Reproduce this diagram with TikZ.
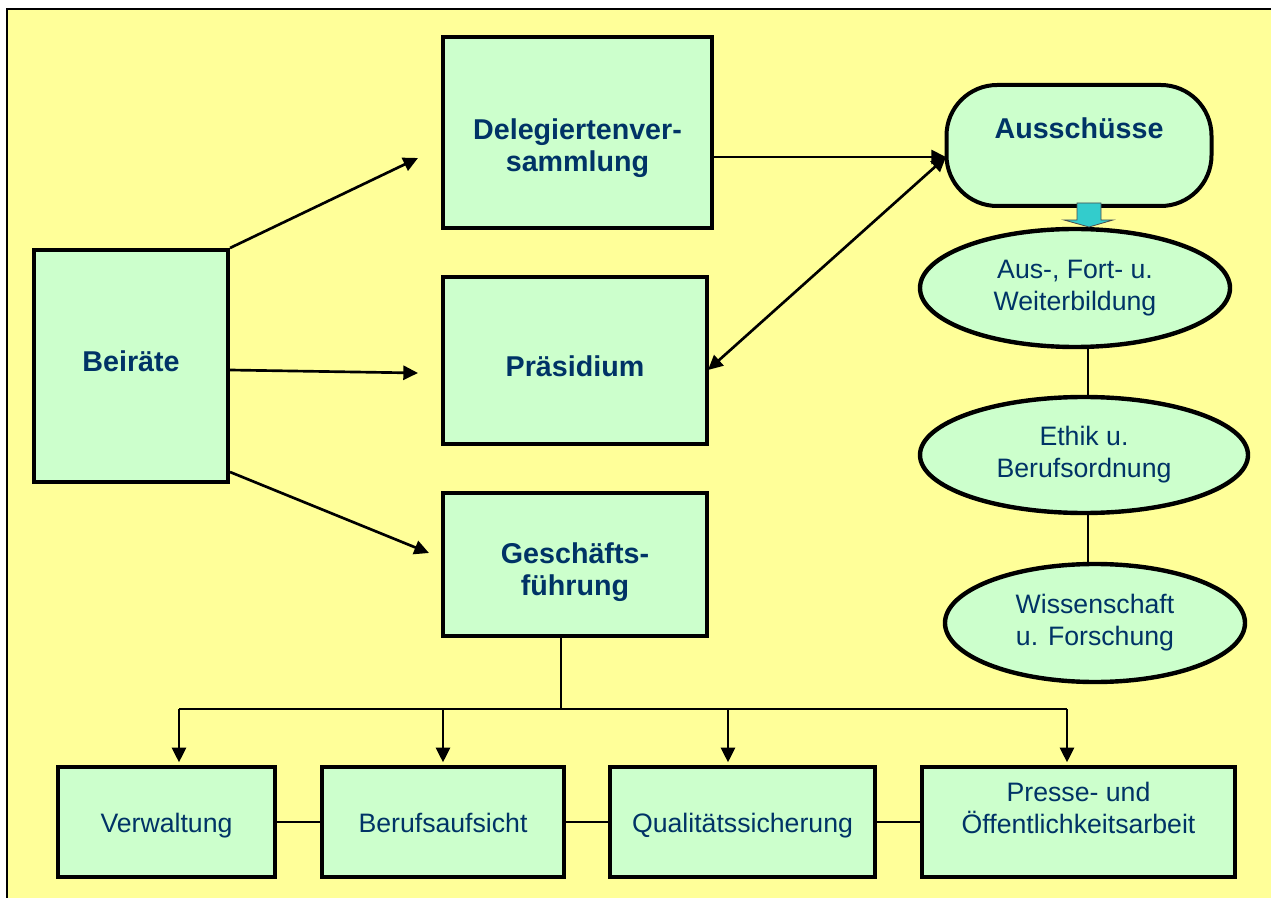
\documentclass[tikz,border=0pt]{standalone}
\usepackage{fontspec}
\setmainfont{Liberation Sans}
\usetikzlibrary{arrows.meta,shapes.geometric,calc}
\definecolor{bgyellow}{HTML}{FFFF99}
\definecolor{boxgreen}{HTML}{CCFFCC}
\definecolor{txtblue}{HTML}{003366}
\definecolor{cyanarrow}{HTML}{33CCCC}
\begin{document}
\begin{tikzpicture}[x=0.75pt,y=-0.75pt,
  box/.style={draw=black,line width=3pt,fill=boxgreen,inner sep=0pt},
  oval/.style={ellipse,draw=black,line width=3.3pt,fill=boxgreen,inner sep=0pt,
    text=txtblue,align=center,font=\fontsize{20}{24}\selectfont},
  boldtxt/.style={text=txtblue,align=center,font=\fontsize{21.5}{24}\selectfont\bfseries,inner sep=0pt},
  plaintxt/.style={text=txtblue,align=center,font=\fontsize{20}{24}\selectfont,inner sep=0pt},
  conn/.style={line width=2pt},
  thinconn/.style={line width=1pt},
  arr/.style={line width=2pt,-{Triangle[length=11pt,width=10.5pt]}},
  dblarr/.style={line width=2pt,{Triangle[length=11pt,width=10.5pt]}-{Triangle[length=11pt,width=10.5pt]}}
]
\useasboundingbox (0,0) rectangle (1271,898);
\fill[white] (0,0) rectangle (1271,898);
\fill[bgyellow] (7,9) rectangle (1271,898);
\draw[line width=2pt] (7,898) -- (7,9) -- (1271,9);

% main boxes
\node[box,minimum width=201.75pt,minimum height=143.25pt] (del) at (577.5,132.5) {};
\node[boldtxt] (delt) at (577.5,148) {Delegiertenver-\\sammlung};
\node[box,minimum width=198pt,minimum height=125.25pt] (pra) at (575,360.5) {};
\node[boldtxt] (prat) at (575,366) {Präsidium};
\node[box,minimum width=198pt,minimum height=107.25pt] (gf) at (575,564.5) {};
\node[boldtxt] (gft) at (575,572) {Geschäfts-\\führung};
\node[box,minimum width=145.5pt,minimum height=174pt] (bei) at (131,366) {};
\node[boldtxt] (beit) at (131,361) {Beiräte};

% Ausschuesse
\node[box,rounded corners=38pt,minimum width=198.75pt,minimum height=90.75pt] (aus) at (1079,145.5) {};
\node[boldtxt] (aust) at (1079,128) {Ausschüsse};

% ellipses
\node[oval,minimum width=232.5pt,minimum height=88.5pt] (e1) at (1075,288) {Aus-, Fort- u.\\Weiterbildung};
\node[oval,minimum width=246pt,minimum height=87pt] (e2) at (1084,455) {Ethik u.\\Berufsordnung};
\node[oval,minimum width=225pt,minimum height=88.5pt] (e3) at (1095,623) {Wissenschaft\\u. Forschung};

% bottom boxes
\node[box,minimum width=162.75pt,minimum height=82.5pt] (b1) at (166.5,822) {};
\node[plaintxt,anchor=base] (b1t) at (166.5,832) {Verwaltung};
\node[box,minimum width=181.5pt,minimum height=82.5pt] (b2) at (443,822) {};
\node[plaintxt,anchor=base] (b2t) at (443,832) {Berufsaufsicht};
\node[box,minimum width=198.75pt,minimum height=82.5pt] (b3) at (742.5,822) {};
\node[plaintxt,anchor=base] (b3t) at (742.5,832) {Qualitätssicherung};
\node[box,minimum width=234.75pt,minimum height=82.5pt] (b4) at (1078.5,822) {};
\node[plaintxt] (b4t) at (1078.5,808) {Presse- und\\Öffentlichkeitsarbeit};

% free ends
\coordinate (tDel) at (418,158);
\coordinate (tPra) at (418,373);
\coordinate (tGf) at (429,553);
\coordinate (a1) at (946,157);
\coordinate (pEnd) at (708,370);
\coordinate (col) at (1088,0);
\coordinate (d1) at (179,709);
\coordinate (d2) at (443,709);
\coordinate (d3) at (728,709);
\coordinate (d4) at (1067,709);
\coordinate (bus) at (561,709);

% Beiraete arrows
\draw[arr] (bei.north east) -- (tDel);
\draw[arr] ($(bei.east)+(0,4)$) -- (tPra);
\draw[arr] ($(bei.south east)+(0,-12)$) -- (tGf);

% Delegierte -> Ausschuesse, Ausschuesse <-> Praesidium
\draw[arr] (del.east |- a1) -- (a1);
\draw[dblarr] (a1) -- (pEnd);

% cyan arrow
\filldraw[fill=cyanarrow,draw=black!70,line width=0.6pt]
  (1077,203) -- (1101,203) -- (1101,220) -- (1113,220) -- (1089,227) -- (1064,220) -- (1077,220) -- cycle;

% ellipse chain
\draw[thinconn] (e1.south -| col) -- (e2.north -| col);
\draw[thinconn] (e2.south -| col) -- (e3.north -| col);

% Geschaeftsfuehrung bus
\draw[thinconn] (gf.south -| bus) -- (bus);
\draw[conn] (d1) -- (d4);
\draw[arr,shorten >=2pt] (d1) -- (d1 |- b1.north);
\draw[arr,shorten >=2pt] (d2) -- (d2 |- b2.north);
\draw[arr,shorten >=2pt] (d3) -- (d3 |- b3.north);
\draw[arr,shorten >=2pt] (d4) -- (d4 |- b4.north);

% bottom chain
\draw[conn] (b1.east) -- (b2.west);
\draw[conn] (b2.east) -- (b3.west);
\draw[conn] (b3.east) -- (b4.west);
\end{tikzpicture}
\end{document}
